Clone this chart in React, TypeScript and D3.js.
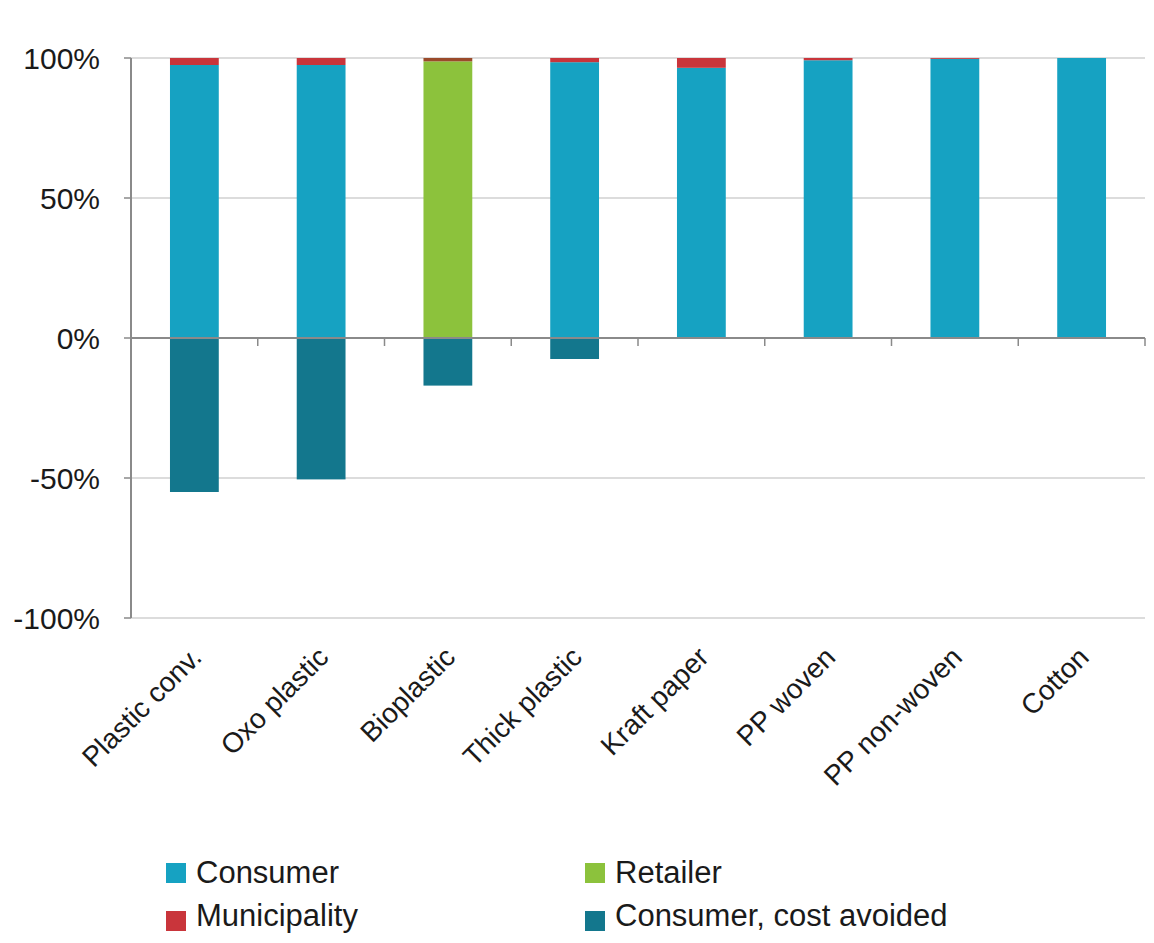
import React from "react";
import * as d3 from "d3";

const categories = ["Plastic conv.", "Oxo plastic", "Bioplastic", "Thick plastic", "Kraft paper", "PP woven", "PP non-woven", "Cotton"];
const consumer = [97.5, 97.5, 0, 98.5, 96.5, 99.2, 99.7, 100];
const retailer = [0, 0, 98.8, 0, 0, 0, 0, 0];
const municipality = [2.5, 2.5, 1.2, 1.5, 3.5, 0.8, 0.3, 0];
const costAvoided = [-55, -50.5, -17, -7.5, 0, 0, 0, 0];
const yTicks = [100, 50, 0, -50, -100];

const colors = {
  consumer: "#16a2c2",
  retailer: "#8cc23c",
  municipality: "#c9353b",
  costAvoided: "#13778d",
};
const muniColors = ["#c9353b", "#c9353b", "#9a4a2a", "#c9353b", "#c9353b", "#c9353b", "#c9353b", "#c9353b"];

const legendItems = [
  { label: "Consumer", color: colors.consumer, col: 0, row: 0 },
  { label: "Retailer", color: colors.retailer, col: 1, row: 0 },
  { label: "Municipality", color: colors.municipality, col: 0, row: 1 },
  { label: "Consumer, cost avoided", color: colors.costAvoided, col: 1, row: 1 },
];

export default function App() {
  const W = 1154, H = 943;
  const left = 131, right = 1145, top = 58, bottom = 618;
  const x = d3.scaleBand<string>().domain(categories).range([left, right]).paddingInner(0.615).paddingOuter(0.3075);
  const y = d3.scaleLinear().domain([-100, 100]).range([bottom, top]);
  const bw = x.bandwidth();
  const font = "'Liberation Sans', Arial, sans-serif";

  const rects: JSX.Element[] = [];
  categories.forEach((c, i) => {
    const x0 = x(c)!;
    let base = 0;
    const stack = [
      { v: consumer[i], col: colors.consumer },
      { v: retailer[i], col: colors.retailer },
      { v: municipality[i], col: muniColors[i] },
    ];
    stack.forEach((s, k) => {
      if (s.v > 0) {
        rects.push(<rect key={`p${i}-${k}`} x={x0} width={bw} y={y(base + s.v)} height={y(base) - y(base + s.v)} fill={s.col} />);
        base += s.v;
      }
    });
    if (costAvoided[i] < 0) {
      rects.push(<rect key={`n${i}`} x={x0} width={bw} y={y(0)} height={y(costAvoided[i]) - y(0)} fill={colors.costAvoided} />);
    }
  });

  const boundaries = d3.range(1, categories.length + 1).map((k) => left + k * ((right - left) / categories.length));

  return (
    <svg width={W} height={H} style={{ position: "absolute", left: 0, top: 0, background: "#fff" }}>
      <rect x={0} y={0} width={W} height={H} fill="#fff" />
      {yTicks.filter((t) => t !== 0).map((t) => (
        <line key={`g${t}`} x1={left} x2={right} y1={y(t)} y2={y(t)} stroke="#dcdcdc" strokeWidth={2} />
      ))}
      {rects}
      <line x1={left} x2={right} y1={y(0)} y2={y(0)} stroke="#8a8a8a" strokeWidth={2} />
      {boundaries.map((bx, k) => (
        <line key={`xt${k}`} x1={bx} x2={bx} y1={y(0)} y2={y(0) + 8} stroke="#8a8a8a" strokeWidth={1.5} />
      ))}
      <line x1={left} x2={left} y1={top} y2={bottom} stroke="#8a8a8a" strokeWidth={2} />
      {yTicks.map((t) => (
        <g key={`yt${t}`}>
          <line x1={left - 7} x2={left} y1={y(t)} y2={y(t)} stroke="#8a8a8a" strokeWidth={1.5} />
          <text x={100} y={y(t)} dy="0.36em" textAnchor="end" fontFamily={font} fontSize={30} fill="#1a1a1a">
            {`${t}%`}
          </text>
        </g>
      ))}
      {categories.map((c) => {
        const cx = x(c)! + bw / 2 + 2;
        const cy = 652;
        return (
          <text key={`xl${c}`} transform={`translate(${cx},${cy}) rotate(-45)`} textAnchor="end" fontFamily={font} fontSize={28} fill="#1a1a1a" dy="0.35em">
            {c}
          </text>
        );
      })}
      {legendItems.map((it) => {
        const lx = 166 + it.col * 419;
        const ly = 872 + it.row * 43;
        return (
          <g key={it.label}>
            <rect x={lx} y={ly - 9 + it.row * 5} width={20} height={20} fill={it.color} />
            <text x={lx + 30} y={ly} dy="0.36em" fontFamily={font} fontSize={31} fill="#1a1a1a">
              {it.label}
            </text>
          </g>
        );
      })}
    </svg>
  );
}
